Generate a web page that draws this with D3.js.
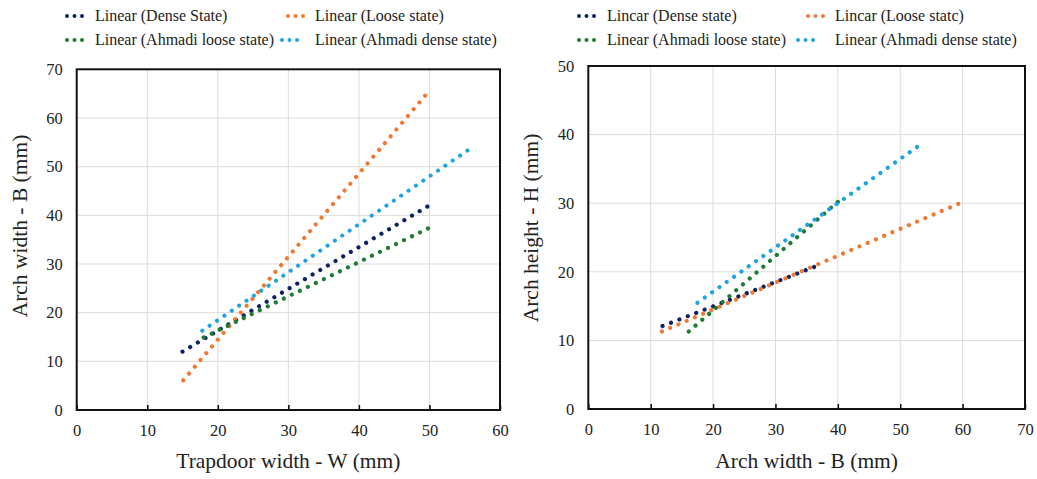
<!DOCTYPE html>
<html>
<head>
<meta charset="utf-8">
<script src="https://cdn.jsdelivr.net/npm/d3@7"></script>
<style>
  body { margin: 0; background: #fff; }
  svg text { font-family: "Liberation Serif", "DejaVu Serif", "Times New Roman", serif !important; fill: #222; }
</style>
</head>
<body>
<svg id="chart"></svg>
<script>
// series names (legend order) and colours
const seriesNames = ["dense", "loose", "ahmadiLoose", "ahmadiDense"];
const colors = { dense: "#0d2263", loose: "#ef7a35", ahmadiLoose: "#1f7a33", ahmadiDense: "#1ea5e0" };

// left chart: trapdoor width W vs arch width B (trendline end points)
const leftLegend = ["Linear (Dense State)", "Linear (Loose state)", "Linear (Ahmadi loose state)", "Linear (Ahmadi dense state)"];
const leftDense = [[15.0, 12.0], [49.7, 41.8]];
const leftLoose = [[15.1, 6.1], [49.4, 64.6]];
const leftAhmadiLoose = [[18.0, 14.9], [49.8, 37.3]];
const leftAhmadiDense = [[17.8, 16.3], [55.4, 53.3]];
const leftXTicks = [0, 10, 20, 30, 40, 50, 60];
const leftYTicks = [0, 10, 20, 30, 40, 50, 60, 70];

// right chart: arch width B vs arch height H
const rightLegend = ["Lincar (Dense state)", "Lincar (Loose statc)", "Linear (Ahmadi loose state)", "Linear (Ahmadi dense state)"];
const rightDense = [[11.9, 12.1], [36.2, 20.7]];
const rightLoose = [[11.8, 11.3], [59.3, 29.9]];
const rightAhmadiLoose = [[16.1, 11.3], [40.0, 30.2]];
const rightAhmadiDense = [[17.5, 15.5], [52.7, 38.2]];
const rightXTicks = [0, 10, 20, 30, 40, 50, 60, 70];
const rightYTicks = [0, 10, 20, 30, 40, 50];

const width = 1037, height = 479;
const svg = d3.select("#chart").attr("width", width).attr("height", height);
svg.append("rect").attr("width", width).attr("height", height).attr("fill", "#fff");

function drawPanel(opt) {
  const x = d3.scaleLinear().domain(d3.extent(opt.xTicks)).range([opt.left, opt.right]);
  const y = d3.scaleLinear().domain(d3.extent(opt.yTicks)).range([opt.bottom, opt.top]);
  const g = svg.append("g");

  // gridlines
  g.append("g").selectAll("line").data(opt.xTicks.slice(1, -1)).enter().append("line")
    .attr("x1", d => x(d)).attr("x2", d => x(d))
    .attr("y1", opt.top).attr("y2", opt.bottom)
    .attr("stroke", "#dcdcdc").attr("stroke-width", 1);
  g.append("g").selectAll("line").data(opt.yTicks.slice(1, -1)).enter().append("line")
    .attr("y1", d => y(d)).attr("y2", d => y(d))
    .attr("x1", opt.left).attr("x2", opt.right)
    .attr("stroke", "#dcdcdc").attr("stroke-width", 1);

  // x axis with inward ticks
  const xAxis = d3.axisBottom(x).tickValues(opt.xTicks).tickSizeInner(-5).tickSizeOuter(0).tickPadding(14);
  const xg = g.append("g").attr("transform", `translate(0,${opt.bottom})`).call(xAxis)
    .attr("font-family", "Liberation Serif").attr("font-size", 16.5);
  xg.select(".domain").remove();
  xg.selectAll(".tick line").attr("stroke", "#000").attr("stroke-width", 1.5);
  xg.selectAll("text").attr("fill", "#222");

  const yAxis = d3.axisLeft(y).tickValues(opt.yTicks).tickSize(0).tickPadding(14);
  const yg = g.append("g").attr("transform", `translate(${opt.left},0)`).call(yAxis)
    .attr("font-family", "Liberation Serif").attr("font-size", 16.5);
  yg.select(".domain").remove();
  yg.selectAll("text").attr("fill", "#222");

  // frame
  g.append("rect").attr("x", opt.left).attr("y", opt.top)
    .attr("width", opt.right - opt.left).attr("height", opt.bottom - opt.top)
    .attr("fill", "none").attr("stroke", "#111").attr("stroke-width", 2);

  // dotted trendlines, dot spacing adjusted so both ends get a dot
  const line = d3.line().x(d => x(d[0])).y(d => y(d[1]));
  seriesNames.forEach(name => {
    const path = g.append("path").datum(opt.data[name]).attr("d", line)
      .attr("fill", "none").attr("stroke", colors[name])
      .attr("stroke-width", 4.2).attr("stroke-linecap", "round");
    const len = path.node().getTotalLength();
    const n = Math.round(len / 9);
    const step = (len - 0.05) / n;
    path.attr("stroke-dasharray", `0.01 ${step - 0.01}`);
  });

  // axis titles
  g.append("text").attr("x", (opt.left + opt.right) / 2).attr("y", 468)
    .attr("text-anchor", "middle").attr("font-size", 21.5).text(opt.xTitle);
  g.append("text").attr("transform", `translate(${opt.yTitleX},${opt.yTitleY}) rotate(-90)`)
    .attr("text-anchor", "middle").attr("font-size", 21.5).text(opt.yTitle);

  // legend
  opt.legendPos.forEach((p, i) => {
    const name = seriesNames[i];
    g.append("line").attr("x1", p[0]).attr("x2", p[0] + 20).attr("y1", p[1]).attr("y2", p[1])
      .attr("stroke", colors[name]).attr("stroke-width", 4).attr("stroke-linecap", "round")
      .attr("stroke-dasharray", "0.01 7.49");
    g.append("text").attr("x", p[2]).attr("y", p[1] + 5).attr("font-size", 16).text(opt.legend[i]);
  });
}

drawPanel({
  left: 76.7, right: 500, top: 69.3, bottom: 410,
  xTicks: leftXTicks, yTicks: leftYTicks,
  data: { dense: leftDense, loose: leftLoose, ahmadiLoose: leftAhmadiLoose, ahmadiDense: leftAhmadiDense },
  xTitle: "Trapdoor width - W (mm)", yTitle: "Arch width - B (mm)",
  yTitleX: 27, yTitleY: 226,
  legend: leftLegend,
  legendPos: [[67, 16, 95], [288, 16, 315], [67, 40, 95], [282, 40, 315]]
});

drawPanel({
  left: 588.3, right: 1025, top: 66, bottom: 409,
  xTicks: rightXTicks, yTicks: rightYTicks,
  data: { dense: rightDense, loose: rightLoose, ahmadiLoose: rightAhmadiLoose, ahmadiDense: rightAhmadiDense },
  xTitle: "Arch width - B (mm)", yTitle: "Arch height - H (mm)",
  yTitleX: 538, yTitleY: 228,
  legend: rightLegend,
  legendPos: [[579, 16, 607], [808, 16, 835], [579, 40, 607], [798, 40, 835]]
});
</script>
</body>
</html>
